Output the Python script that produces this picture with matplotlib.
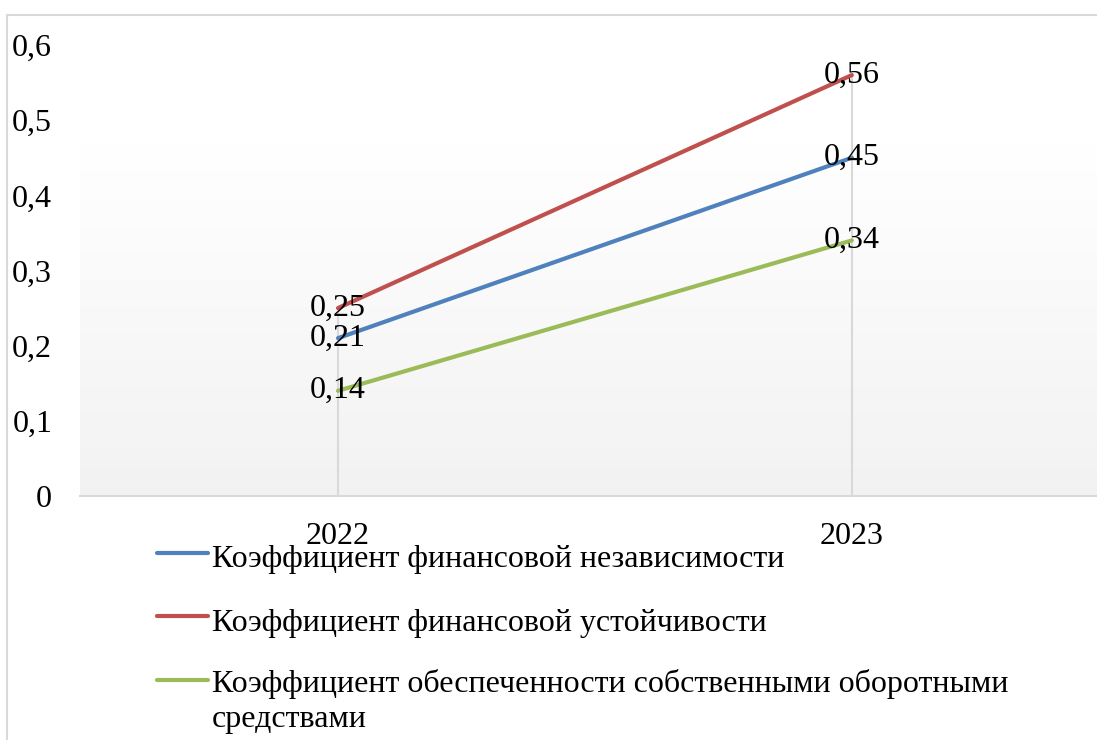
import numpy as np
import matplotlib
matplotlib.use("Agg")
import matplotlib.pyplot as plt
from matplotlib.lines import Line2D
from matplotlib.patches import Rectangle
from matplotlib.colors import LinearSegmentedColormap

plt.rcParams['font.family'] = ['Liberation Serif', 'DejaVu Serif']

years = ["2022", "2023"]
series_names = [
    "Коэффициент финансовой независимости",
    "Коэффициент финансовой устойчивости",
    "Коэффициент обеспеченности собственными оборотными\nсредствами",
]
independence = [0.21, 0.45]
stability = [0.25, 0.56]
working_capital = [0.14, 0.34]
series_values = [independence, stability, working_capital]
colors = ["#4F81BD", "#C0504D", "#9BBB59"]
y_ticks = [0, 0.1, 0.2, 0.3, 0.4, 0.5, 0.6]

FS = 23
W, H = 1097, 740
fig = plt.figure(figsize=(W / 100, H / 100), dpi=100)
fig.patch.set_facecolor("white")

# chart frame
fig.patches.append(Rectangle((7 / W, -0.05), 1.2, (H - 15) / H + 0.05,
                             transform=fig.transFigure, fill=False,
                             edgecolor="#d9d9d9", linewidth=1.5, zorder=0))

ax = fig.add_axes([80 / W, (H - 496) / H, (W - 80) / W, (496 - 45) / H])
x = np.arange(len(years))
ax.set_xlim(-0.502, 1.477)
ax.set_ylim(0, 0.6)

# plot-area gradient: white at top, light grey at bottom
cmap = LinearSegmentedColormap.from_list("bg", [(0.0, "#f2f2f2"), (0.78, "#ffffff"), (1.0, "#ffffff")])
grad = np.linspace(0, 1, 256).reshape(-1, 1)
ax.imshow(grad, extent=[0, 1, 0, 1], transform=ax.transAxes, origin="lower",
          aspect="auto", cmap=cmap, zorder=0)

# drop lines from the highest value down to the axis
tops = np.max(np.array(series_values), axis=0)
ax.vlines(x, 0, tops, color="#d9d9d9", linewidth=1.5, zorder=1)

for vals, c in zip(series_values, colors):
    ax.plot(x, vals, color=c, linewidth=3, solid_capstyle="round", zorder=3)
    for xi, v in zip(x, vals):
        ax.text(xi, v, f"{v:.2f}".replace(".", ","), ha="center", va="center",
                fontsize=FS, color="black", zorder=4)

for s in ["top", "right", "left"]:
    ax.spines[s].set_visible(False)
ax.spines["bottom"].set_color("#d9d9d9")
ax.spines["bottom"].set_linewidth(1.5)

ax.set_yticks(y_ticks)
ax.set_yticklabels([("%g" % t).replace(".", ",") for t in y_ticks], fontsize=FS)
ax.set_xticks(x)
ax.set_xticklabels(years, fontsize=FS)
ax.tick_params(axis="y", length=0, pad=20)
ax.tick_params(axis="x", length=0, pad=19)

# legend below the plot
legend_y = [553, 616, 680]
for name, c, ly in zip(series_names, colors, legend_y):
    fig.add_artist(Line2D([157 / W, 208 / W], [(H - ly) / H] * 2, color=c,
                          linewidth=3, solid_capstyle="round",
                          transform=fig.transFigure))
    if "\n" in name:
        fig.text(212 / W, (H - ly + 11) / H, name, fontsize=FS, ha="left",
                 va="top", linespacing=1.25)
    else:
        fig.text(212 / W, (H - ly - 7) / H, name, fontsize=FS, ha="left",
                 va="center")

fig.savefig("out.png", dpi=100)
